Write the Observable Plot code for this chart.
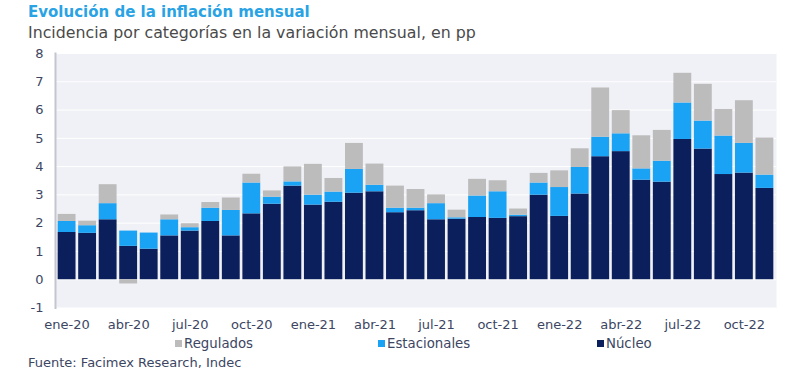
<!DOCTYPE html>
<html>
<head>
<meta charset="utf-8">
<script src="https://cdn.jsdelivr.net/npm/d3@7"></script>
<script src="https://cdn.jsdelivr.net/npm/@observablehq/plot@0.6"></script>
<style>
  body { margin: 0; background: #ffffff; font-family: "DejaVu Sans", sans-serif; }
  #wrap { position: relative; width: 800px; height: 378px; overflow: hidden; background: #fff; }
  .title { position: absolute; left: 28px; top: 5px; font-size: 15px; line-height: 15px; font-weight: 700; color: #2aa3e4; white-space: nowrap; }
  .subtitle { position: absolute; left: 28px; top: 25px; font-size: 15.8px; line-height: 16px; color: #4a4a4a; white-space: nowrap; }
  #chart { position: absolute; left: 0; top: 44px; }
  .leg { position: absolute; top: 337px; font-size: 13.3px; line-height: 14px; color: #3c4663; white-space: nowrap; }
  .leg .sw { display: inline-block; width: 7px; height: 7px; margin-right: 2px; vertical-align: 1px; }
  .caption { position: absolute; left: 28px; top: 355.5px; font-size: 13px; line-height: 13px; color: #3c4663; white-space: nowrap; }
</style>
</head>
<body>
<div id="wrap">
  <div class="title" id="title"></div>
  <div class="subtitle" id="subtitle"></div>
  <div id="chart"></div>
  <div id="legend"></div>
  <div class="caption" id="caption"></div>
</div>
<script>
const titleText = "Evolución de la inflación mensual";
const subtitleText = "Incidencia por categorías en la variación mensual, en pp";
const captionText = "Fuente: Facimex Research, Indec";

const months = [
  "ene-20","feb-20","mar-20","abr-20","may-20","jun-20","jul-20","ago-20","sep-20","oct-20","nov-20","dic-20",
  "ene-21","feb-21","mar-21","abr-21","may-21","jun-21","jul-21","ago-21","sep-21","oct-21","nov-21","dic-21",
  "ene-22","feb-22","mar-22","abr-22","may-22","jun-22","jul-22","ago-22","sep-22","oct-22","nov-22"
];
const nucleo = [
  1.67,1.64,2.12,1.18,1.08,1.55,1.72,2.06,1.55,2.33,2.67,3.31,
  2.64,2.74,3.06,3.11,2.37,2.44,2.12,2.14,2.20,2.17,2.23,2.99,
  2.24,3.03,4.35,4.53,3.52,3.45,4.96,4.62,3.72,3.77,3.23
];
const estacionales = [
  0.39,0.27,0.57,0.54,0.57,0.57,0.12,0.47,0.90,1.09,0.25,0.15,
  0.35,0.36,0.84,0.23,0.16,0.09,0.57,0.05,0.76,0.94,0.05,0.43,
  1.02,0.94,0.69,0.63,0.40,0.74,1.29,0.99,1.36,1.05,0.47
];
const regulados = [
  0.25,0.16,0.67,-0.15,0.00,0.17,0.14,0.20,0.44,0.31,0.22,0.53,
  1.09,0.48,0.92,0.75,0.78,0.66,0.31,0.27,0.59,0.39,0.22,0.34,
  0.59,0.66,1.74,0.82,1.17,1.09,1.05,1.30,0.94,1.51,1.31
];
const categories = ["Núcleo","Estacionales","Regulados"];
const categoryColors = ["#0b1f5c","#1aa2f4","#bcbcbc"];
const legendOrder = ["Regulados","Estacionales","Núcleo"];
const xTickLabels = ["ene-20","abr-20","jul-20","oct-20","ene-21","abr-21","jul-21","oct-21","ene-22","abr-22","jul-22","oct-22"];
const yTickValues = [-1,0,1,2,3,4,5,6,7,8];

document.getElementById("title").textContent = titleText;
document.getElementById("subtitle").textContent = subtitleText;
document.getElementById("caption").textContent = captionText;

const series = {"Núcleo": nucleo, "Estacionales": estacionales, "Regulados": regulados};
const rows = [];
months.forEach((m, i) => {
  categories.forEach(c => rows.push({month: m, cat: c, value: series[c][i]}));
});

const chart = Plot.plot({
  width: 800,
  height: 294,
  marginLeft: 55,
  marginRight: 24,
  marginTop: 9,
  marginBottom: 30.5,
  style: {fontFamily: "DejaVu Sans, sans-serif", fontSize: "13px", background: "transparent", color: "#3c4663"},
  x: {domain: months, padding: 0.13, round: false, label: null},
  y: {domain: [-1, 8], label: null},
  color: {domain: categories, range: categoryColors},
  marks: [
    Plot.frame({fill: "#f0f1f6", stroke: null}),
    Plot.gridY(yTickValues, {stroke: "#ffffff", strokeOpacity: 1, strokeWidth: 1}),
    Plot.barY(rows, {x: "month", y: "value", fill: "cat", order: categories}),
    Plot.frame({anchor: "left", stroke: "#c3c6cf", strokeWidth: 2}),
    Plot.axisY(yTickValues, {tickSize: 0, tickPadding: 12, fontSize: 13, color: "#3c4663", label: null, tickFormat: d => String(d)}),
    Plot.axisX(xTickLabels, {tickSize: 0, tickPadding: 12, fontSize: 13, color: "#3c4663", label: null})
  ]
});
document.getElementById("chart").appendChild(chart);

const legendX = {"Regulados": 175, "Estacionales": 378, "Núcleo": 597};
const legend = document.getElementById("legend");
legendOrder.forEach(c => {
  const d = document.createElement("div");
  d.className = "leg";
  d.style.left = legendX[c] + "px";
  const sw = document.createElement("span");
  sw.className = "sw";
  sw.style.background = categoryColors[categories.indexOf(c)];
  d.appendChild(sw);
  d.appendChild(document.createTextNode(c));
  legend.appendChild(d);
});
</script>
</body>
</html>
